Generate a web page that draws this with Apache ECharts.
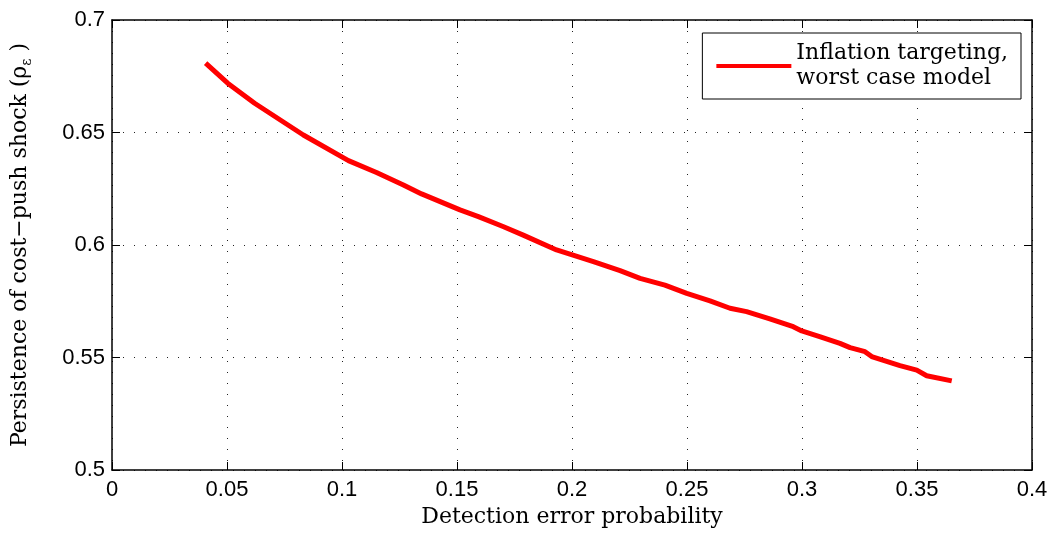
<!DOCTYPE html>
<html>
<head>
<meta charset="utf-8">
<script src="https://cdn.jsdelivr.net/npm/echarts@6/dist/echarts.min.js"></script>
<style>html,body{margin:0;padding:0;background:#fff}#c{width:1053px;height:536px}</style>
</head>
<body>
<div id="c"></div>
<script>
var xValues = [0.0407, 0.0503, 0.0620, 0.0832, 0.1028, 0.1150, 0.1267, 0.1346, 0.1513, 0.1593, 0.1700, 0.1788, 0.1933, 0.2093, 0.2209, 0.2296, 0.2404, 0.2499, 0.2600, 0.2687, 0.2759, 0.2860, 0.2962, 0.2999, 0.3080, 0.3165, 0.3209, 0.3274, 0.3303, 0.3426, 0.3499, 0.3542, 0.3651];
var yValues = [0.6808, 0.6719, 0.6630, 0.6489, 0.6375, 0.6322, 0.6267, 0.6227, 0.6156, 0.6126, 0.6082, 0.6044, 0.5978, 0.5926, 0.5886, 0.5852, 0.5822, 0.5785, 0.5752, 0.5719, 0.5704, 0.5672, 0.5637, 0.5618, 0.5592, 0.5563, 0.5544, 0.5526, 0.5504, 0.5464, 0.5444, 0.5419, 0.5396];
var xTicks = [0, 0.05, 0.1, 0.15, 0.2, 0.25, 0.3, 0.35, 0.4];
var yTicks = [0.5, 0.55, 0.6, 0.65, 0.7];
var seriesName = 'Inflation targeting,\nworst case model';

var pts = xValues.map(function (x, i) { return [x, yValues[i]]; });
var sans = 'Liberation Sans, Arial, sans-serif';
var serif = 'DejaVu Serif, serif';
var fmt = function (v) { return String(+v.toFixed(2)); };

var chart = echarts.init(document.getElementById('c'), null, { renderer: 'canvas' });
chart.setOption({
  animation: false,
  backgroundColor: '#fff',
  grid: { left: 112, right: 21, top: 20, bottom: 66, containLabel: false },
  legend: {
    data: [seriesName],
    right: 32, top: 33,
    orient: 'vertical',
    backgroundColor: '#fff',
    borderColor: '#000', borderWidth: 1,
    padding: [8, 13, 8, 14],
    itemWidth: 75, itemHeight: 4,
    itemGap: 0,
    icon: 'rect',
    textStyle: { fontFamily: serif, fontSize: 22, color: '#000', lineHeight: 25 }
  },
  xAxis: [{
    type: 'value', min: 0, max: 0.4, interval: 0.05,
    position: 'bottom',
    axisLine: { show: true, lineStyle: { color: '#000', width: 1.5 } },
    axisTick: { show: true, inside: true, length: 8, lineStyle: { color: '#000' } },
    axisLabel: { margin: 9, formatter: fmt, fontFamily: sans, fontSize: 22, color: '#000' },
    splitLine: { show: true, lineStyle: { color: '#222', type: [1, 10], width: 1 } },
    name: 'Detection error probability', nameLocation: 'middle', nameGap: 35,
    nameTextStyle: { fontFamily: serif, fontSize: 22, color: '#000' }
  }, {
    type: 'value', min: 0, max: 0.4, interval: 0.05, position: 'top',
    axisLine: { show: true, onZero: false, lineStyle: { color: '#000', width: 1.5 } },
    axisTick: { show: true, inside: true, length: 8, lineStyle: { color: '#000' } },
    axisLabel: { show: false }, splitLine: { show: false }
  }],
  yAxis: [{
    type: 'value', min: 0.5, max: 0.7, interval: 0.05,
    position: 'left',
    axisLine: { show: true, lineStyle: { color: '#000', width: 1.5 } },
    axisTick: { show: true, inside: true, length: 8, lineStyle: { color: '#000' } },
    axisLabel: { margin: 7, formatter: fmt, fontFamily: sans, fontSize: 22, color: '#000' },
    splitLine: { show: true, lineStyle: { color: '#222', type: [1, 10], width: 1 } },
    name: 'Persistence of cost\u2212push shock (\u03c1{sub|\u03b5} )',
    nameLocation: 'middle', nameGap: 78, nameRotate: 90,
    nameTextStyle: {
      fontFamily: serif, fontSize: 22, color: '#000',
      rich: { sub: { fontFamily: serif, fontSize: 14, color: '#000', padding: [14, 0, 0, 0] } }
    }
  }, {
    type: 'value', min: 0.5, max: 0.7, interval: 0.05, position: 'right',
    axisLine: { show: true, onZero: false, lineStyle: { color: '#000', width: 1.5 } },
    axisTick: { show: true, inside: true, length: 8, lineStyle: { color: '#000' } },
    axisLabel: { show: false }, splitLine: { show: false }
  }],
  series: [{
    name: seriesName,
    type: 'line',
    data: pts,
    showSymbol: false,
    symbol: 'none',
    lineStyle: { color: '#ff0000', width: 5 },
    itemStyle: { color: '#ff0000' },
    smooth: false
  }]
});
</script>
</body>
</html>
